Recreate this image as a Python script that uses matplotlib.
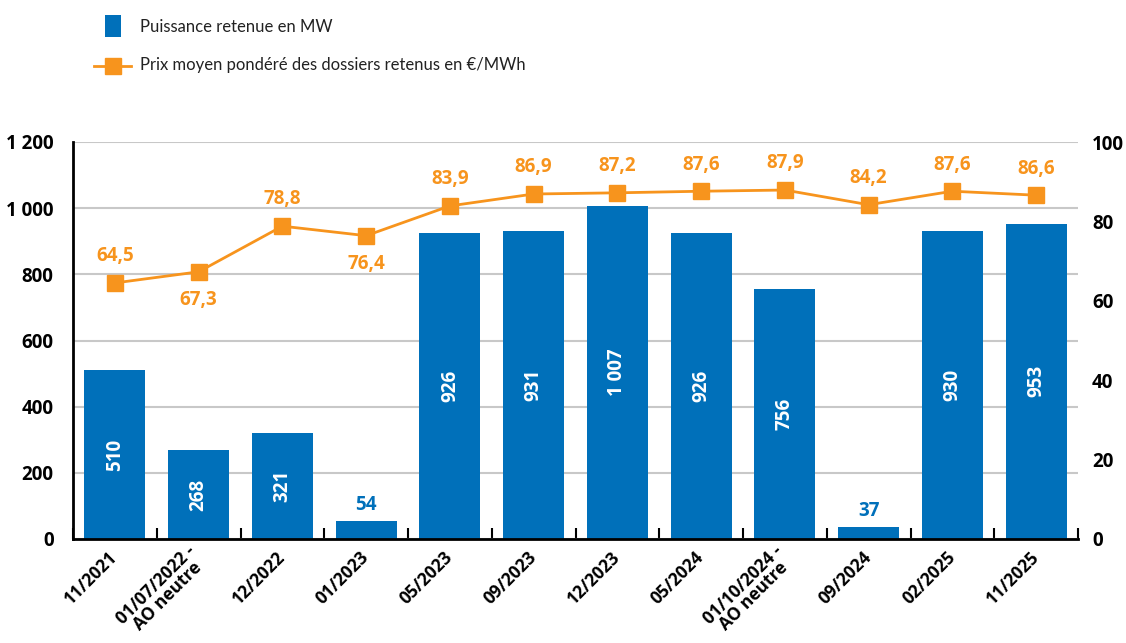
import matplotlib
matplotlib.use("Agg")
import matplotlib.pyplot as plt
from matplotlib.lines import Line2D
from matplotlib.patches import Rectangle
import numpy as np

categories = ["11/2021", "01/07/2022 -\nAO neutre", "12/2022", "01/2023", "05/2023",
              "09/2023", "12/2023", "05/2024", "01/10/2024 -\nAO neutre", "09/2024",
              "02/2025", "11/2025"]
power_mw = [510, 268, 321, 54, 926, 931, 1007, 926, 756, 37, 930, 953]
price = [64.5, 67.3, 78.8, 76.4, 83.9, 86.9, 87.2, 87.6, 87.9, 84.2, 87.6, 86.6]
price_below = [False, True, False, True, False, False, False, False, False, False, False, False]
left_ticks = [0, 200, 400, 600, 800, 1000, 1200]
right_ticks = [0, 20, 40, 60, 80, 100]
legend_labels = ["Puissance retenue en MW", "Prix moyen pondéré des dossiers retenus en €/MWh"]

BLUE = "#0070BA"
ORANGE = "#F7941D"
FONT = "Open Sans"
LEG_FONT, LEG_SIZE = "Lato", 12

plt.rcParams['font.family'] = [FONT, 'DejaVu Sans']

def fmt_thousands(v):
    return f"{int(v):,}".replace(",", " ")

W, H = 1126, 643
fig = plt.figure(figsize=(W / 100, H / 100), dpi=100)
ax = fig.add_axes([73 / W, 1 - 539 / H, (1078 - 73) / W, (539 - 142) / H])
ax2 = ax.twinx()

x = np.arange(len(categories))
ax.bar(x, power_mw, width=0.73, color=BLUE, zorder=2)
ax.set_xlim(-0.5, len(categories) - 0.5)
ax.set_ylim(0, 1200)
ax.set_yticks(left_ticks)
ax.set_yticklabels([fmt_thousands(v) for v in left_ticks], fontsize=13.5, fontweight='bold')
ax.yaxis.grid(True, color="#C8C8C8", linewidth=1.5, zorder=0)
ax.set_axisbelow(True)
ax.tick_params(axis='y', length=0, pad=14)

for s in ["top", "right"]:
    ax.spines[s].set_visible(False)
    ax2.spines[s].set_visible(False)
ax2.spines["left"].set_visible(False)
ax2.spines["bottom"].set_visible(False)
ax.spines["left"].set_linewidth(2)
ax.spines["bottom"].set_linewidth(2)

# category boundary ticks on bottom axis
ax.set_xticks(np.arange(len(categories) + 1) - 0.5, minor=True)
ax.tick_params(axis='x', which='minor', direction='in', length=8, width=1.5, color='black')
ax.set_xticks(x)
ax.set_xticklabels(categories, rotation=45, ha='right', va='center', rotation_mode='anchor',
                   fontsize=12.5, fontweight='bold', multialignment='center',
                   linespacing=0.85)
ax.tick_params(axis='x', which='major', length=0, pad=11)

# bar value labels
for xi, v in zip(x, power_mw):
    txt = fmt_thousands(v)
    if v > 150:
        ax.text(xi, v / 2, txt, rotation=90, ha='center', va='center', color='white',
                fontsize=13.5, fontweight='bold', zorder=3)
    else:
        ax.text(xi, v + 18, txt, ha='center', va='bottom', color=BLUE,
                fontsize=13.5, fontweight='bold', zorder=3)

# price line
ax2.plot(x, price, color=ORANGE, linewidth=2, marker='s', markersize=12, zorder=4)
ax2.set_ylim(0, 100)
ax2.set_yticks(right_ticks)
ax2.set_yticklabels([str(v) for v in right_ticks], fontsize=13.5, fontweight='bold')
ax2.tick_params(axis='y', length=0, pad=10)
for xi, p, below in zip(x, price, price_below):
    lab = f"{p:.1f}".replace(".", ",")
    if below:
        ax2.annotate(lab, (xi, p), xytext=(0, -13), textcoords='offset points',
                     ha='center', va='top', color=ORANGE, fontsize=13.5, fontweight='bold')
    else:
        ax2.annotate(lab, (xi, p), xytext=(0, 12), textcoords='offset points',
                     ha='center', va='bottom', color=ORANGE, fontsize=13.5, fontweight='bold')

# legend drawn in figure pixel coordinates
def fx(px):
    return px / W

def fy(py):
    return 1 - py / H

fig.add_artist(Rectangle((fx(105), fy(37)), 16 / W, 22 / H, facecolor=BLUE,
                         edgecolor='none', transform=fig.transFigure))
fig.add_artist(Line2D([fx(94), fx(131)], [fy(66), fy(66)], color=ORANGE, linewidth=2,
                      transform=fig.transFigure))
fig.add_artist(Line2D([fx(112.5)], [fy(66)], color=ORANGE, marker='s', markersize=12,
                      linestyle='none', transform=fig.transFigure))
fig.text(fx(140), fy(27), legend_labels[0], ha='left', va='center',
         fontsize=LEG_SIZE, family=[LEG_FONT, 'DejaVu Sans'], color='#222222')
fig.text(fx(140), fy(65), legend_labels[1], ha='left', va='center',
         fontsize=LEG_SIZE, family=[LEG_FONT, 'DejaVu Sans'], color='#222222')

fig.savefig("out.png", dpi=100)
